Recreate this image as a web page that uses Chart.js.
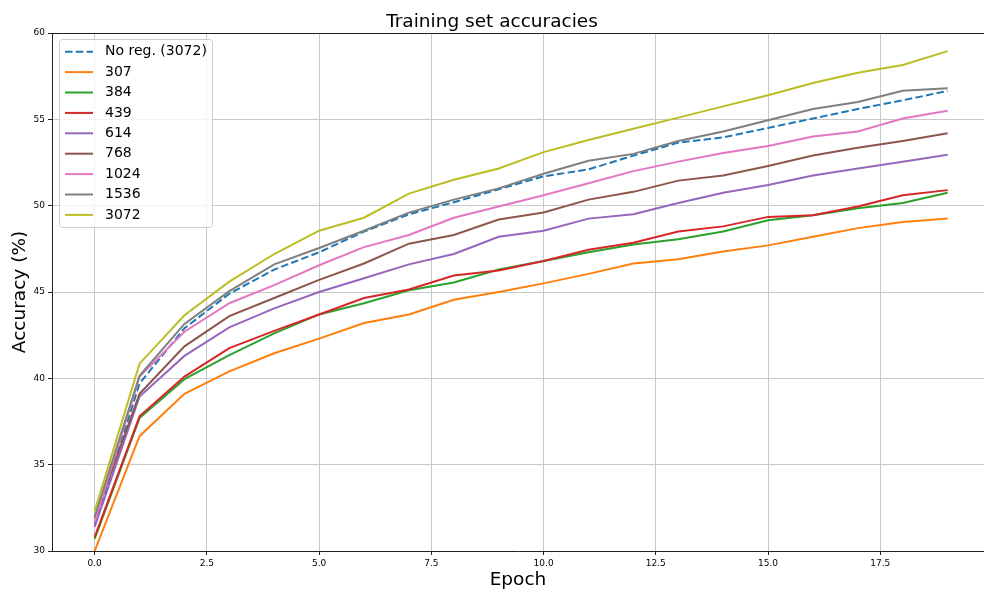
<!DOCTYPE html>
<html>
<head>
  <script src="https://cdn.jsdelivr.net/npm/chart.js"></script>
  <style>
    body { margin: 0; background: #fff; }
  </style>
</head>
<body>
  <canvas id="accChart" width="984" height="592"></canvas>

  <script>
    const epochs = [0, 1, 2, 3, 4, 5, 6, 7, 8, 9, 10, 11, 12, 13, 14, 15, 16, 17, 18, 19];

    const seriesNames = ['No reg. (3072)', '307', '384', '439', '614', '768', '1024', '1536', '3072'];

    const noReg = [31.5, 39.7, 42.9, 44.9, 46.3, 47.3, 48.5, 49.5, 50.2, 50.95, 51.7, 52.1, 52.9, 53.65, 53.95, 54.5, 55.05, 55.6, 56.1, 56.65];
    const acc307 = [30.0, 36.65, 39.1, 40.4, 41.45, 42.3, 43.2, 43.7, 44.55, 45.0, 45.5, 46.05, 46.65, 46.9, 47.35, 47.7, 48.2, 48.7, 49.05, 49.25];
    const acc384 = [30.7, 37.7, 39.95, 41.35, 42.6, 43.7, 44.35, 45.1, 45.55, 46.3, 46.8, 47.3, 47.75, 48.05, 48.5, 49.15, 49.45, 49.85, 50.15, 50.75];
    const acc439 = [30.8, 37.8, 40.1, 41.75, 42.75, 43.7, 44.65, 45.15, 45.95, 46.25, 46.8, 47.45, 47.85, 48.5, 48.8, 49.35, 49.45, 49.95, 50.6, 50.9];
    const acc614 = [31.4, 38.95, 41.3, 42.95, 44.05, 45.0, 45.8, 46.6, 47.2, 48.2, 48.55, 49.25, 49.5, 50.15, 50.75, 51.2, 51.75, 52.15, 52.55, 52.95];
    const acc768 = [31.9, 39.1, 41.85, 43.6, 44.65, 45.7, 46.65, 47.8, 48.3, 49.2, 49.6, 50.35, 50.8, 51.45, 51.75, 52.3, 52.9, 53.35, 53.75, 54.2];
    const acc1024 = [31.7, 40.1, 42.7, 44.35, 45.4, 46.55, 47.6, 48.3, 49.3, 49.95, 50.6, 51.3, 52.0, 52.55, 53.05, 53.45, 54.0, 54.3, 55.05, 55.5];
    const acc1536 = [32.0, 40.15, 43.15, 45.05, 46.6, 47.55, 48.55, 49.6, 50.35, 51.0, 51.85, 52.6, 53.0, 53.75, 54.3, 54.95, 55.6, 56.0, 56.65, 56.8];
    const acc3072 = [32.3, 40.85, 43.65, 45.6, 47.2, 48.55, 49.3, 50.7, 51.5, 52.15, 53.1, 53.8, 54.45, 55.1, 55.75, 56.4, 57.1, 57.7, 58.15, 58.95];

    const xTickValues = [0, 2.5, 5, 7.5, 10, 12.5, 15, 17.5];
    const yTickValues = [30, 35, 40, 45, 50, 55, 60];

    const allSeries = [noReg, acc307, acc384, acc439, acc614, acc768, acc1024, acc1536, acc3072];
    const colors = ['#1f77b4', '#ff7f0e', '#2ca02c', '#d62728', '#9467bd', '#8c564b', '#e377c2', '#7f7f7f', '#bcbd22'];

    const FONT = 'DejaVu Sans';

    const datasets = allSeries.map((values, i) => ({
      label: seriesNames[i],
      data: values.map((v, j) => ({ x: epochs[j], y: v })),
      borderColor: colors[i],
      backgroundColor: colors[i],
      borderWidth: 2,
      borderDash: i === 0 ? [7.5, 3.3] : [],
      pointRadius: 0,
      tension: 0,
      // later series are drawn on top
      order: allSeries.length - i,
    }));

    // legend in the upper left corner, with a translucent box
    const legendBox = {
      id: 'legendBox',
      afterDatasetsDraw(chart) {
        const { ctx, chartArea } = chart;
        const x0 = chartArea.left + 7, y0 = chartArea.top + 6;
        const rowH = 20.4;
        const w = 153, h = rowH * chart.data.datasets.length + 4.4;
        ctx.save();
        ctx.beginPath();
        ctx.roundRect(x0 + 0.5, y0 + 0.5, w, h, 3);
        ctx.fillStyle = 'rgba(255,255,255,0.8)';
        ctx.fill();
        ctx.strokeStyle = '#cccccc';
        ctx.lineWidth = 1;
        ctx.stroke();
        ctx.font = '14px "' + FONT + '"';
        ctx.textBaseline = 'middle';
        chart.data.datasets.forEach((ds, i) => {
          const cy = y0 + 12.7 + i * rowH;
          ctx.beginPath();
          ctx.strokeStyle = ds.borderColor;
          ctx.lineWidth = ds.borderWidth;
          ctx.setLineDash(ds.borderDash);
          ctx.moveTo(x0 + 6, cy);
          ctx.lineTo(x0 + 34, cy);
          ctx.stroke();
          ctx.setLineDash([]);
          ctx.fillStyle = '#000';
          ctx.fillText(ds.label, x0 + 46, cy);
        });
        ctx.restore();
      }
    };

    // top spine of the axes box
    const topSpine = {
      id: 'topSpine',
      afterDraw(chart) {
        const { ctx, chartArea } = chart;
        ctx.save();
        ctx.strokeStyle = '#222';
        ctx.lineWidth = 1;
        ctx.beginPath();
        ctx.moveTo(chartArea.left, Math.round(chartArea.top) + 0.5);
        ctx.lineTo(chartArea.right, Math.round(chartArea.top) + 0.5);
        ctx.stroke();
        ctx.restore();
      }
    };

    const tickFont = { family: FONT, size: 9 };
    const titleFont = { family: FONT, size: 18.5 };

    const ctx = document.getElementById('accChart').getContext('2d');
    new Chart(ctx, {
      type: 'line',
      data: { datasets: datasets },
      options: {
        responsive: false,
        animation: false,
        devicePixelRatio: 1,
        layout: { padding: 0 },
        plugins: {
          legend: { display: false },
          tooltip: { enabled: false },
          title: {
            display: true,
            text: 'Training set accuracies',
            color: '#000',
            font: { family: FONT, size: 18.5, weight: 'normal' },
            padding: { top: 10.8, bottom: 0 },
          },
        },
        scales: {
          x: {
            type: 'linear',
            min: -0.95,
            max: 19.81,
            afterBuildTicks: (scale) => { scale.ticks = xTickValues.map(v => ({ value: v })); },
            afterFit: (scale) => { scale.height = 41; },
            ticks: {
              callback: (v) => v.toFixed(1),
              font: tickFont,
              color: '#000',
              padding: 3,
              autoSkip: false,
              maxRotation: 0,
            },
            grid: { color: '#c8c8c8', tickColor: '#222', tickLength: 4, lineWidth: 1 },
            border: { color: '#222', width: 1 },
            title: {
              display: true,
              text: 'Epoch',
              color: '#000',
              font: titleFont,
              padding: { top: 0, bottom: 1 },
            },
          },
          y: {
            min: 30,
            max: 60,
            afterBuildTicks: (scale) => { scale.ticks = yTickValues.map(v => ({ value: v })); },
            afterFit: (scale) => { scale.width = 52; },
            ticks: {
              callback: (v) => String(v),
              font: tickFont,
              color: '#000',
              padding: 3,
            },
            grid: { color: '#c8c8c8', tickColor: '#222', tickLength: 4, lineWidth: 1 },
            border: { color: '#222', width: 1 },
            title: {
              display: true,
              text: 'Accuracy (%)',
              color: '#000',
              font: titleFont,
              padding: { top: 9, bottom: 0 },
            },
          },
        },
      },
      plugins: [legendBox, topSpine],
    });
  </script>
</body>
</html>
